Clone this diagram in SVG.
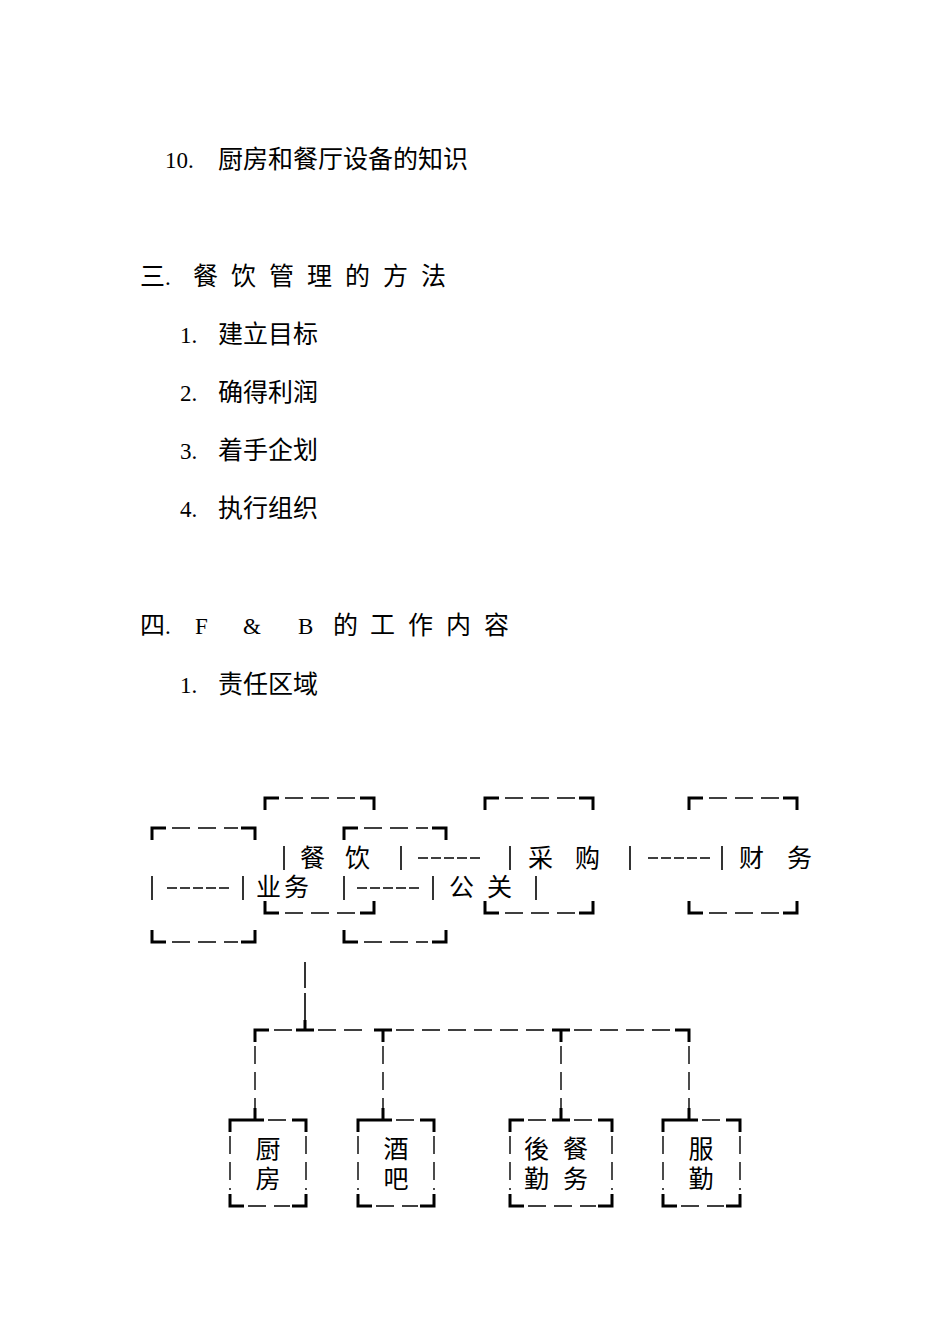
<svg xmlns="http://www.w3.org/2000/svg" width="950" height="1344" viewBox="0 0 950 1344">
<style>
text{font-family:"Liberation Serif","Noto Sans CJK SC",serif;font-size:25px;fill:#000}
.n{font-size:23px}
.c{text-anchor:middle}
.k{fill:none;stroke:#000;stroke-width:3}
.d{fill:none;stroke:#000;stroke-width:1.4;stroke-dasharray:18,8}
.s{fill:none;stroke:#000;stroke-width:1.3;stroke-dasharray:10,3}
.b{stroke:#000;stroke-width:1.6}
</style>
<rect width="950" height="1344" fill="#fff"/>
<g id="text">
<text class="n" x="165" y="168">10.</text><text x="218" y="168">厨房和餐厅设备的知识</text>
<text x="140" y="285">三</text><text class="n" x="165" y="285">.</text>
<text x="193" y="285">餐</text><text x="231" y="285">饮</text><text x="269" y="285">管</text><text x="307" y="285">理</text><text x="345" y="285">的</text><text x="383" y="285">方</text><text x="421" y="285">法</text>
<text class="n" x="180" y="343">1.</text><text x="218" y="343">建立目标</text>
<text class="n" x="180" y="401">2.</text><text x="218" y="401">确得利润</text>
<text class="n" x="180" y="459">3.</text><text x="218" y="459">着手企划</text>
<text class="n" x="180" y="517">4.</text><text x="218" y="517">执行组织</text>
<text x="140" y="634">四</text><text class="n" x="165" y="634">.</text><text class="n" x="195" y="634">F</text><text class="n" x="243" y="634">&amp;</text><text class="n" x="298" y="634">B</text>
<text x="333" y="634">的</text><text x="370" y="634">工</text><text x="408" y="634">作</text><text x="446" y="634">内</text><text x="484" y="634">容</text>
<text class="n" x="180" y="693">1.</text><text x="218" y="693">责任区域</text>
</g>
<g id="topboxes">
<g id="boxA"><path class="k" d="M152,840V828H166M241,828H255V840M152,930V942H166M241,942H255V930"/><path class="d" d="M172,828H238M172,942H238"/></g>
<g id="boxB"><path class="k" d="M265,810V798H279M360,798H374V810M265,901V913H279M360,913H374V901"/><path class="d" d="M285,798H356M285,913H356"/></g>
<g id="boxC"><path class="k" d="M344,840V828H358M432,828H446V840M344,930V942H358M432,942H446V930"/><path class="d" d="M364,828H428M364,942H428"/></g>
<g id="boxD"><path class="k" d="M485,810V798H499M579,798H593V810M485,901V913H499M579,913H593V901"/><path class="d" d="M505,798H575M505,913H575"/></g>
<g id="boxE"><path class="k" d="M689,810V798H703M783,798H797V810M689,901V913H703M783,913H797V901"/><path class="d" d="M709,798H779M709,913H779"/></g>
<g id="row1">
<line class="b" x1="284" y1="846" x2="284" y2="870"/>
<text x="300" y="867">餐</text><text x="345" y="867">饮</text>
<line class="b" x1="401" y1="846" x2="401" y2="870"/>
<path class="s" d="M418,858H483"/>
<line class="b" x1="510" y1="846" x2="510" y2="870"/>
<text x="528" y="867">采</text><text x="575" y="867">购</text>
<line class="b" x1="630" y1="846" x2="630" y2="870"/>
<path class="s" d="M648,858H713"/>
<line class="b" x1="722" y1="846" x2="722" y2="870"/>
<text x="739" y="867">财</text><text x="787" y="867">务</text>
</g>
<g id="row2">
<line class="b" x1="152" y1="876" x2="152" y2="900"/>
<path class="s" d="M167,888H232"/>
<line class="b" x1="243" y1="876" x2="243" y2="900"/>
<text x="256" y="896">业</text><text x="284" y="896">务</text>
<line class="b" x1="344" y1="876" x2="344" y2="900"/>
<path class="s" d="M357,888H422"/>
<line class="b" x1="433" y1="876" x2="433" y2="900"/>
<text x="449" y="896">公</text><text x="487" y="896">关</text>
<line class="b" x1="536" y1="876" x2="536" y2="900"/>
</g>
</g>
<g id="connectors">
<line class="b" x1="305" y1="962" x2="305" y2="988"/>
<line class="b" x1="305" y1="993" x2="305" y2="1020"/>
<path class="k" d="M296,1030H314M305,1030V1020M374,1030H392M383,1030V1042M552,1030H570M561,1030V1042M255,1042V1030H269M675,1030H689V1042"/>
<path class="d" d="M274,1030H294M318,1030H370M396,1030H548M574,1030H672"/>
<path class="d" d="M255,1046V1108M383,1046V1108M561,1046V1108M689,1046V1108"/>
<path class="k" d="M255,1108V1120M383,1108V1120M561,1108V1120M689,1108V1120"/>
</g>
<g id="kitchen"><path class="k" d="M230,1132V1120H264M292,1120H306V1132M230,1194V1206H244M292,1206H306V1194"/><path class="d" d="M268,1120H290M248,1206H290M230,1136V1190M306,1136V1190"/><text class="c" x="268" y="1158">厨</text><text class="c" x="268" y="1188">房</text></g>
<g id="bar"><path class="k" d="M358,1132V1120H392M420,1120H434V1132M358,1194V1206H372M420,1206H434V1194"/><path class="d" d="M396,1120H418M376,1206H418M358,1136V1190M434,1136V1190"/><text class="c" x="396" y="1158">酒</text><text class="c" x="396" y="1188">吧</text></g>
<g id="support"><path class="k" d="M510,1132V1120H524M552,1120H570M598,1120H612V1132M510,1194V1206H524M598,1206H612V1194"/><path class="d" d="M528,1120H550M574,1120H596M528,1206H596M510,1136V1190M612,1136V1190"/><text x="524" y="1158">後</text><text x="563" y="1158">餐</text><text x="524" y="1188">勤</text><text x="563" y="1188">务</text></g>
<g id="service"><path class="k" d="M663,1132V1120H698M726,1120H740V1132M663,1194V1206H677M726,1206H740V1194"/><path class="d" d="M702,1120H724M681,1206H724M663,1136V1190M740,1136V1190"/><text class="c" x="701" y="1158">服</text><text class="c" x="701" y="1188">勤</text></g>
</svg>
